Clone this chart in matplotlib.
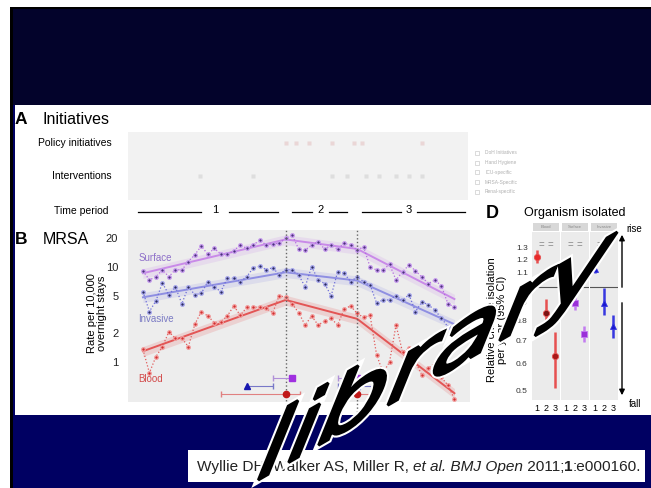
import matplotlib
matplotlib.use('Agg')
import matplotlib.pyplot as plt
import matplotlib.font_manager as fm
import matplotlib.patheffects as pe
from matplotlib.patches import Rectangle, PathPatch
from matplotlib.ticker import NullLocator
from matplotlib.textpath import TextPath
from matplotlib.transforms import Affine2D
import numpy as np

plt.rcParams['font.family'] = ['Liberation Sans', 'DejaVu Sans']

W, H = 651, 488

# ---- panel B: MRSA rates per 10,000 overnight stays (one point per period)
months = np.arange(49)
surface = [9.1, 7.3, 7.9, 9.3, 7.9, 9.4, 9.3, 11.4, 13.5, 16.6,
           13.6, 15.7, 13.6, 13.6, 14.8, 17, 15.7, 17, 19.2, 17,
           17.5, 17.8, 20, 21.7, 15.4, 15, 17, 18.5, 15.4, 17,
           15.4, 17.8, 17, 15, 16.3, 10, 9.3, 9.3, 10.7, 7.3,
           8.9, 10.5, 9.1, 7.8, 6.7, 7.3, 6.3, 4.1, 3.8]
invasive = [5.5, 3.4, 4.4, 6.8, 5.1, 6.2, 4.1, 6.2, 5.1, 5.3,
            7.0, 6.2, 5.5, 7.6, 7.6, 7.0, 7.9, 9.8, 10.2, 9.4,
            9.8, 8.3, 9.4, 9.3, 8.2, 6.2, 10.1, 7.3, 6.7, 4.95,
            8.9, 8.6, 7.0, 7.9, 7.0, 6.5, 4.2, 4.5, 4.5, 5.0,
            4.5, 5.1, 3.4, 4.3, 4.0, 3.5, 2.9, 2.35, 2.1]
blood = [1.36, 0.77, 1.14, 1.45, 2.08, 1.78, 1.78, 1.45, 2.5, 3.4,
         3.05, 2.6, 2.65, 3.05, 3.9, 3.1, 3.76, 3.76, 3.8, 3.67,
         3.3, 5.0, 4.8, 4.1, 3.3, 2.45, 3.05, 2.45, 2.7, 2.88,
         2.45, 3.6, 3.9, 3.25, 2.95, 3.1, 1.2, 0.77, 1.0, 2.45,
         1.28, 1.39, 1.0, 0.73, 0.86, 0.98, 0.69, 0.57, 0.41]

knots = [0, 22, 33, 48]
surface_fit = [8.6, 19.5, 15.5, 4.6]
invasive_fit = [4.8, 8.8, 7.2, 2.5]
blood_fit = [1.3, 4.5, 2.85, 0.47]
breaks = [22, 33]

# change points with CI (in periods)
cp_names = ['Surface', 'Invasive', 'Blood']
cp1_est = [23.0, 16.1, 22.0]
cp1_lo = [20.0, 16.1, 12.0]
cp1_hi = [23.0, 20.1, 24.2]
cp2_est = [33.0, 33.0, 33.0]
cp2_lo = [30.0, 30.0, 31.0]
cp2_hi = [33.0, 36.0, 35.0]

# time periods
period_labels = ['1', '2', '3']
period_spans = [(-0.7, 20.8), (23.0, 31.5), (33.8, 49.7)]
period_centres = [11.1, 27.3, 41.0]

# panel A (faint) event times
policy_times = [22.2, 23.8, 25.8, 29.3, 32.7, 34.0, 43.2]
intervention_times = [8.8, 17.0, 29.3, 31.6, 34.6, 36.6, 39.2, 41.2, 43.2]
legend_items = ['DoH Initiatives', 'Hand Hygiene', 'ICU-specific',
                'MRSA-Specific', 'Renal-specific']

# ---- panel D: relative change per year by period
organisms = ['Blood', 'Surface', 'Invasive']
periods = [1, 2, 3]
rr = [[1.22, 0.84, 0.63], [1.17, 0.90, 0.73], [1.13, 0.90, 0.77]]
rr_lo = [[1.17, 0.76, 0.51], [1.15, 0.86, 0.69], [1.10, 0.83, 0.71]]
rr_hi = [[1.28, 0.92, 0.74], [1.19, 0.94, 0.77], [1.17, 0.99, 0.83]]

fig = plt.figure(figsize=(W / 100, H / 100), dpi=100)


def px_axes(x0, y0, x1, y1):
    return fig.add_axes([x0 / W, 1 - y1 / H, (x1 - x0) / W, (y1 - y0) / H])


# slide background
bg = px_axes(0, 0, W, H)
bg.set_xlim(0, W)
bg.set_ylim(H, 0)
bg.axis('off')
bg.add_patch(Rectangle((10, 7), W - 10, H - 7, fc='black', lw=0))
bg.add_patch(Rectangle((13, 9), W - 13, 96, fc='#03032b', lw=0))
bg.add_patch(Rectangle((13, 105), W - 13, H - 105, fc='#000062', lw=0))
bg.add_patch(Rectangle((15, 105), W - 15, 310, fc='white', lw=0))
bg.add_patch(Rectangle((188, 450), 457, 32, fc='white', lw=0))

# titles
bg.text(15, 119, 'A', fontsize=12.5, weight='bold', va='center')
bg.text(43, 119, 'Initiatives', fontsize=11.5, va='center')
bg.text(15, 240, 'B', fontsize=12.5, weight='bold', va='center')
bg.text(43, 240, 'MRSA', fontsize=11.5, va='center')
bg.text(112, 143, 'Policy initiatives', fontsize=7.5, ha='right', va='center')
bg.text(112, 176, 'Interventions', fontsize=7.5, ha='right', va='center')
bg.text(108, 211, 'Time period', fontsize=7.5, ha='right', va='center')
bg.text(97, 313, 'Rate per 10,000\novernight stays', fontsize=8, rotation=90,
        ha='center', va='center', linespacing=0.95)

# ---- panel B
axB = px_axes(128, 230, 470, 402)
axB.set_facecolor('#ededed')
axB.set_yscale('log')
axB.set_xlim(-2.3, 50.4)
axB.set_ylim(0.38, 24.5)
for s in axB.spines.values():
    s.set_visible(False)
axB.set_xticks([])
axB.set_yticks([1, 2, 5, 10, 20])
axB.set_yticklabels(['1', '2', '5', '10', '20'])
axB.yaxis.set_minor_locator(NullLocator())
axB.tick_params(length=0, labelsize=8, pad=7, labelcolor='#222222')

series = [
    (surface, surface_fit, '#4a2f7a', '#c89cf0', '#b46be0', '#c98ae8'),
    (invasive, invasive_fit, '#2a2a5c', '#a8a8ee', '#6d6dd8', '#8f8fe2'),
    (blood, blood_fit, '#d23030', '#f2a0a0', '#e25a5a', '#e35555'),
]
for vals, fit, pc, halo, lc, fc in series:
    fit = np.array(fit)
    axB.fill_between(knots, fit * 0.88, fit * 1.12, color=fc, alpha=0.18, lw=0)
    axB.plot(knots, fit, color=fc, lw=1.4)
    axB.plot(months, vals, ls=':', color=lc, lw=0.9)
    axB.plot(months, vals, 'o', ms=2.6, mfc=pc, mec=halo, mew=0.9)

for b in breaks:
    axB.axvline(b, ymin=-0.06, ymax=1, color='#666666', ls=':', lw=1.0,
                clip_on=False)

axB.text(-0.7, 12.4, 'Surface', color='#8e6fc9', fontsize=7, va='center')
axB.text(-0.7, 2.84, 'Invasive', color='#7b7bc4', fontsize=7, va='center')
axB.text(-0.7, 0.66, 'Blood', color='#d24a4a', fontsize=7, va='center')

cp_rows = [0.68, 0.56, 0.46]
cp_marks = ['s', '^', 'o']
cp_cols = ['#a030e0', '#1818b0', '#c01818']
cp_ci = ['#b090d8', '#7878c8', '#e08080']
for i in range(3):
    for est, lo, hi in [(cp1_est[i], cp1_lo[i], cp1_hi[i]),
                        (cp2_est[i], cp2_lo[i], cp2_hi[i])]:
        axB.errorbar([est], [cp_rows[i]], xerr=[[est - lo], [hi - est]],
                     fmt=cp_marks[i], ms=4.5, color=cp_cols[i],
                     ecolor=cp_ci[i], elinewidth=0.8, capsize=2.5)

# time period row
tr = axB.get_xaxis_transform()
for lab, (a, b), c in zip(period_labels, period_spans, period_centres):
    gap = 2.2 if lab == '1' else 1.3
    axB.plot([a, c - gap], [1.105, 1.105], color='black', lw=0.9,
             transform=tr, clip_on=False)
    axB.plot([c + gap, b], [1.105, 1.105], color='black', lw=0.9,
             transform=tr, clip_on=False)
    axB.text(c, 1.118, lab, transform=tr, ha='center', va='center',
             fontsize=8)

# ---- panel A (very faint)
axA = px_axes(128, 132, 468, 200)
axA.set_facecolor('#f2f2f2')
axA.set_xlim(-2.3, 50.4)
axA.set_ylim(0, 1)
axA.set_xticks([])
axA.set_yticks([])
for s in axA.spines.values():
    s.set_visible(False)
axA.plot(policy_times, [0.84] * len(policy_times), 's', ms=3,
         color='#ead6d6', mec='none')
axA.plot(intervention_times, [0.35] * len(intervention_times), 's', ms=3,
         color='#dedede', mec='none')

for k, name in enumerate(legend_items):
    y = 153 + k * 9.7
    bg.add_patch(Rectangle((475, y - 2), 4, 4, fc='none', ec='#cccccc', lw=0.5))
    bg.text(485, y, name, fontsize=3.5, color='#b0b0b0', va='center')

# ---- panel D
bg.text(486, 213, 'D', fontsize=13, weight='bold', va='center')
bg.text(575, 213, 'Organism isolated', fontsize=9, ha='center', va='center')
bg.text(497, 320, 'Relative change isolation\nper year (95% CI)', fontsize=8,
        rotation=90, ha='center', va='center', linespacing=0.95)

d_marks = ['o', 's', '^']
d_cols = [['#e82a2a', '#7a1212', '#a81818'],
          ['#9a30d8', '#9a30d8', '#9a30d8'],
          ['#1a1ad0', '#1a1ad0', '#1a1ad0']]
d_ci = ['#e65050', '#c27cf0', '#3838e0']
panel_x = [(532, 560), (561, 589), (590, 618)]
for g, name in enumerate(organisms):
    x0, x1 = panel_x[g]
    ax = px_axes(x0, 232, x1, 400)
    ax.set_facecolor('#ebebeb')
    ax.set_yscale('log')
    ax.set_ylim(0.47, 1.443)
    ax.set_xlim(0.4, 3.6)
    for s in ax.spines.values():
        s.set_visible(False)
    ax.axhline(1, color='#555555', lw=0.8)
    for p in range(3):
        ax.plot([periods[p], periods[p]], [rr_lo[g][p], rr_hi[g][p]],
                color=d_ci[g], lw=1.8, solid_capstyle='butt')
        ax.plot([periods[p]], [rr[g][p]], d_marks[g], ms=4.5,
                color=d_cols[g][p], mec=d_ci[g], mew=0.6)
    ax.set_xticks(periods)
    ax.set_xticklabels(['1', '2', '3'])
    ax.tick_params(axis='x', length=0, labelsize=6.5, pad=3)
    ax.yaxis.set_minor_locator(NullLocator())
    if g == 0:
        ax.set_yticks([0.5, 0.6, 0.7, 0.8, 0.9, 1, 1.1, 1.2, 1.3])
        ax.set_yticklabels(['0.5', '0.6', '0.7', '0.8', '0.9', '1',
                            '1.1', '1.2', '1.3'])
        ax.tick_params(axis='y', length=0, labelsize=6, pad=3,
                       labelcolor='#333333')
    else:
        ax.set_yticks([])
    for xm in (1.5, 2.5):
        ax.text(xm, 1.32, '=', ha='center', va='center', fontsize=7,
                color='#888888')
    ax.add_patch(Rectangle((0.04, 1.005), 0.92, 0.05, transform=ax.transAxes,
                           fc='#d8d8d8', lw=0, clip_on=False))
    ax.text(0.5, 1.03, name, transform=ax.transAxes, fontsize=3,
            color='#888888', ha='center', va='center')

bg.annotate('', xy=(622, 232), xytext=(622, 290),
            arrowprops=dict(arrowstyle='-|>', color='black', lw=1.0,
                            mutation_scale=8))
bg.annotate('', xy=(622, 398), xytext=(622, 300),
            arrowprops=dict(arrowstyle='-|>', color='black', lw=1.0,
                            mutation_scale=8))
bg.text(634, 229, 'rise', fontsize=7, ha='center', va='center')
bg.text(635, 404, 'fall', fontsize=7, ha='center', va='center')

# ---- citation
names = {f.name for f in fm.fontManager.ttflist}
cite_font = 'Liberation Sans Narrow' if 'Liberation Sans Narrow' in names else 'Liberation Sans'
pieces = [('Wyllie DH, Walker AS, Miller R, ', 'normal', 'normal'),
          ('et al. BMJ Open', 'italic', 'normal'),
          (' 2011;', 'normal', 'normal'),
          ('1', 'normal', 'bold'),
          (':e000160.', 'normal', 'normal')]
fig.canvas.draw()
r = fig.canvas.get_renderer()
test = 12.0
total = 0
for s, st, wt in pieces:
    t = bg.text(0, 0, s, family=cite_font, style=st, weight=wt, fontsize=test)
    total += t.get_window_extent(r).width
    t.remove()
fs = test * 443 / total
x = 197
for s, st, wt in pieces:
    t = bg.text(x, 467, s, family=cite_font, style=st, weight=wt, fontsize=fs,
                va='center', ha='left', color='#222222')
    x += t.get_window_extent(r).width

# ---- watermark: slanted word rising across the slide
ov = px_axes(0, 0, W, H)
ov.set_xlim(0, W)
ov.set_ylim(H, 0)
ov.axis('off')
ov.patch.set_visible(False)
ov.set_zorder(10)
tp = TextPath((0, 0), 'library', size=1,
              prop=fm.FontProperties(family='DejaVu Sans'))
em, sx = 105, 1.2
base, lean = np.radians(30), np.radians(68)
M = Affine2D(np.array([[sx * em * np.cos(base), em * np.cos(lean), 248],
                       [-sx * em * np.sin(base), -em * np.sin(lean), 486],
                       [0, 0, 1]]))
ov.add_patch(PathPatch(M.transform_path(tp), fc='black', ec='black', lw=2.0,
                       path_effects=[pe.Stroke(linewidth=5, foreground='white'),
                                     pe.Normal()]))

fig.savefig('out.png', dpi=100)
